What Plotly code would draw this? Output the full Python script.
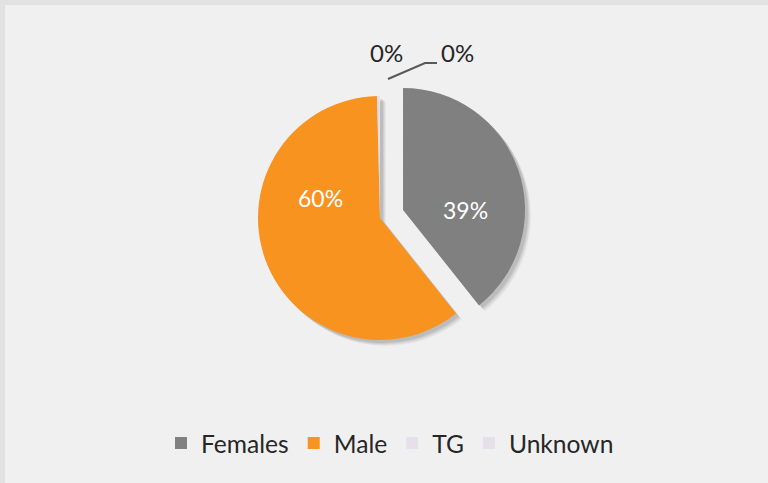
import plotly.graph_objects as go

categories = ["Females", "Male", "TG", "Unknown"]
values = [39.3, 60.3, 0.2, 0.2]
colors = ["#808080", "#F7931E", "#E6E0EC", "#E6E0EC"]
pulls = [0.2, 0, 0, 0]

# label anchor positions (pixels) for the percentage labels
label_px = [(465, 210), (320, 198), (386, 52), (457, 52)]
label_color = ["white", "white", "#262626", "#262626"]
label_size = [23, 23, 24, 24]

W, H = 768, 483
cx, cy, r = 380, 218, 122
half = r * (1 + max(pulls))
dom = dict(x=[(cx - half) / W, (cx + half) / W],
           y=[1 - (cy + half) / H, 1 - (cy - half) / H])

def shifted(d, dx, dy):
    return dict(x=[d["x"][0] + dx / W, d["x"][1] + dx / W],
                y=[d["y"][0] - dy / H, d["y"][1] - dy / H])

traces = []
# soft drop shadow layers
for off, a in [(6, 0.04), (5, 0.05), (4, 0.06), (3, 0.08)]:
    traces.append(go.Pie(
        labels=[c + " shadow" for c in categories], values=values,
        marker=dict(colors=[f"rgba(0,0,0,{a})"] * len(values), line=dict(width=0)),
        pull=pulls, sort=False, direction="clockwise", rotation=0,
        textinfo="none", showlegend=False, hoverinfo="skip",
        domain=shifted(dom, off, off),
    ))

traces.append(go.Pie(
    labels=categories,
    values=values,
    marker=dict(colors=colors, line=dict(width=0)),
    pull=pulls,
    sort=False,
    direction="clockwise",
    rotation=0,
    textinfo="none",
    domain=dom,
    hoverinfo="label+percent",
))

fig = go.Figure(traces)

total = sum(values)
annotations = []
for v, (px, py), col, sz in zip(values, label_px, label_color, label_size):
    annotations.append(dict(
        x=px / W, y=1 - py / H, xref="paper", yref="paper",
        text=f"{round(v / total * 100)}%", showarrow=False,
        font=dict(color=col, size=sz, family="Lato"),
        xanchor="center", yanchor="middle",
    ))

fig.update_layout(
    width=W, height=H,
    margin=dict(l=0, r=0, t=0, b=0),
    paper_bgcolor="#F0F0F0",
    plot_bgcolor="#F0F0F0",
    font=dict(family="Lato", color="#262626", size=24),
    showlegend=True,
    legend=dict(orientation="h", x=0.5 + 6 / W, xanchor="center",
                y=1 - 443 / H, yanchor="middle", traceorder="normal",
                font=dict(size=24.6, color="#262626", family="Lato"),
                bgcolor="rgba(0,0,0,0)", itemclick=False),
    annotations=annotations,
    shapes=[
        dict(type="rect", xref="paper", yref="paper", x0=0, x1=5 / W, y0=0, y1=1,
             fillcolor="#E2E2E2", line=dict(width=0), layer="below"),
        dict(type="rect", xref="paper", yref="paper", x0=0, x1=1, y0=1 - 5 / H, y1=1,
             fillcolor="#E2E2E2", line=dict(width=0), layer="below"),
        dict(type="path", xref="paper", yref="paper",
             path=f"M {388 / W},{1 - 79 / H} L {425 / W},{1 - 63 / H} L {437 / W},{1 - 63 / H}",
             line=dict(color="#595959", width=2)),
    ],
)

fig.write_html("out.html", config={"displayModeBar": False},
               post_script="document.body.style.margin='0';document.body.style.overflow='hidden';")
